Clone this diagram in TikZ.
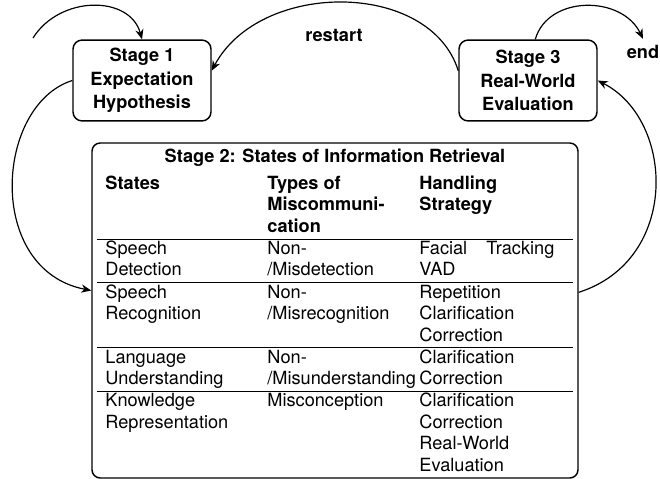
\documentclass[tikz,border=0pt]{standalone}
\usepackage{fontspec}
\setmainfont{TeX Gyre Heros}
\usetikzlibrary{arrows.meta}

\begin{document}
\begin{tikzpicture}[x=0.55pt,y=-0.55pt]
        \useasboundingbox (0,0) rectangle (660,479);
        \tikzset{StageStyle/.style={draw, line width=0.8pt, rounded corners=5pt,
        minimum width=75.9pt, minimum height=44.5pt, align=center,
        font=\fontsize{10}{13}\selectfont\bfseries}}
        \tikzset{TableStyle/.style={draw, line width=0.8pt, rounded corners=4.5pt,
        minimum width=267.3pt, minimum height=184.25pt, inner sep=0pt,
        font=\fontsize{10}{11.8}\selectfont}}
        \tikzset{EdgeStyle/.style={-{Stealth[length=5.5pt,width=4.5pt]}, line width=0.65pt}}
        \node[StageStyle] (S1) at (142,80.5) {Stage 1\\Expectation\\Hypothesis};
        \node[StageStyle] (S3) at (528,80.5) {Stage 3\\Real-World\\Evaluation};
        \node[font=\bfseries] (E) at (643,52) {end};
        \node[font=\bfseries] (R) at (334,35) {restart};
        \coordinate (I) at (33,38);
        \node[TableStyle] (S2) at (335,310.5) {%
        \begin{tabular}{@{\hspace{4.4pt}}p{85pt}@{\hspace{4.1pt}}p{79.5pt}@{\hspace{4.1pt}}p{74.25pt}@{\hspace{10pt}}}
        \multicolumn{3}{@{}c@{}}{\rule{0pt}{10.5pt}\textbf{Stage 2: States of Information Retrieval}}\\[3pt]
        \textbf{States} & \textbf{Types of}\newline\textbf{Miscommuni-}\newline\textbf{cation} & \textbf{Handling}\newline\textbf{Strategy}\\
        \hline
        Speech\newline Detection & Non-\newline/Misdetection & Facial Tracking VAD\\
        \hline
        Speech\newline Recognition & Non-\newline/Misrecognition & Repetition\newline Clarification\newline Correction\\
        \hline
        Language\newline Understanding & Non-\newline/Misunderstanding & Clarification\newline Correction\\
        \hline
        Knowledge\newline Representation & Misconception & Clarification\newline Correction\newline Real-World\newline Evaluation\\
        \end{tabular}};
        \draw[EdgeStyle] (I) .. controls (60,-5) and (130,-5) .. (S1.north);
        \draw[EdgeStyle] (S3.172) .. controls (430,-20) and (260,-20) .. (S1.8);
        \draw[EdgeStyle] (S3.80) .. controls (548,-5) and (622,-5) .. (E.north);
        \draw[EdgeStyle] (S1.west) .. controls (-5,105) and (-15,270) .. ([yshift=11pt]S2.west);
        \draw[EdgeStyle] ([yshift=10pt]S2.east) .. controls (680,260) and (675,120) .. (S3.east);
\end{tikzpicture}
\end{document}
